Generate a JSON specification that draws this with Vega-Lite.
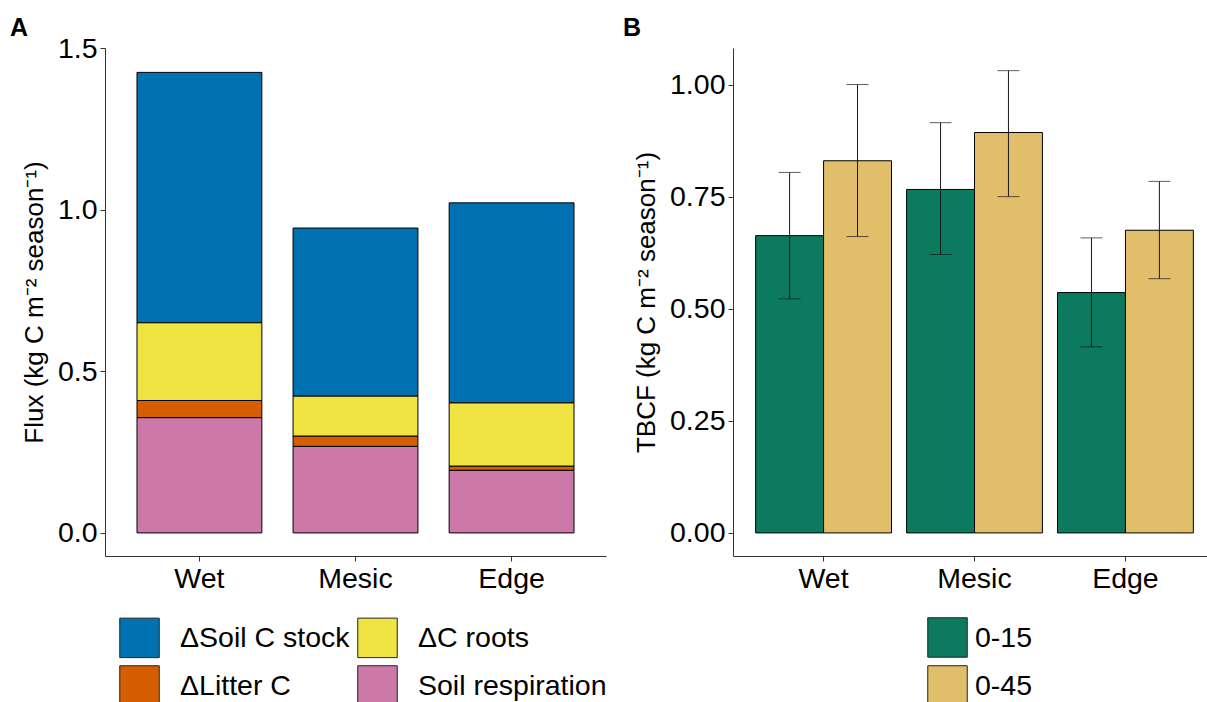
{
  "$schema": "https://vega.github.io/schema/vega-lite/v6.json",
  "autosize": {"type": "pad"},
  "padding": {"left": 10, "top": 16, "right": 0, "bottom": 0},
  "background": "white",
  "config": {
    "font": "Liberation Sans",
    "view": {"stroke": null},
    "axis": {
      "labelFont": "Liberation Sans", "titleFont": "Liberation Sans",
      "labelColor": "black", "titleColor": "black",
      "domainColor": "#333333", "tickColor": "#333333",
      "domainWidth": 1, "tickWidth": 1, "grid": false,
      "labelFontSize": 28.5, "titleFontSize": 26, "titleFontWeight": "normal",
      "tickSize": 5, "labelPadding": 3, "titlePadding": 10
    },
    "legend": {
      "labelFont": "Liberation Sans", "labelFontSize": 28.5, "labelColor": "black", "labelLimit": 0,
      "symbolType": "square", "symbolSize": 1560, "symbolStrokeColor": "#222222",
      "symbolStrokeWidth": 1, "rowPadding": 3, "padding": 0
    },
    "title": {"font": "Liberation Sans", "fontSize": 25, "fontWeight": "bold", "color": "black", "anchor": "start", "frame": "group", "baseline": "alphabetic", "offset": 3}
  },
  "spacing": 127,
  "bounds": "flush",
  "resolve": {"scale": {"color": "independent"}, "legend": {"color": "independent"}},
  "hconcat": [
    {
      "width": 501, "height": 508,
      "title": {"text": "A", "dx": -95, "dy": 10},
      "data": {"values": [
        {"site": "Wet", "component": "Soil respiration", "rank": 1, "flux": 0.357},
        {"site": "Wet", "component": "ΔLitter C", "rank": 2, "flux": 0.053},
        {"site": "Wet", "component": "ΔC roots", "rank": 3, "flux": 0.241},
        {"site": "Wet", "component": "ΔSoil C stock", "rank": 4, "flux": 0.775},
        {"site": "Mesic", "component": "Soil respiration", "rank": 1, "flux": 0.268},
        {"site": "Mesic", "component": "ΔLitter C", "rank": 2, "flux": 0.032},
        {"site": "Mesic", "component": "ΔC roots", "rank": 3, "flux": 0.124},
        {"site": "Mesic", "component": "ΔSoil C stock", "rank": 4, "flux": 0.520},
        {"site": "Edge", "component": "Soil respiration", "rank": 1, "flux": 0.194},
        {"site": "Edge", "component": "ΔLitter C", "rank": 2, "flux": 0.013},
        {"site": "Edge", "component": "ΔC roots", "rank": 3, "flux": 0.196},
        {"site": "Edge", "component": "ΔSoil C stock", "rank": 4, "flux": 0.619}
      ]},
      "mark": {"type": "bar", "stroke": "black", "strokeWidth": 1},
      "encoding": {
        "x": {"field": "site", "type": "nominal", "sort": ["Wet", "Mesic", "Edge"],
              "scale": {"paddingInner": 0.2, "paddingOuter": 0.205},
              "axis": {"title": null, "labelAngle": 0}},
        "y": {"field": "flux", "type": "quantitative", "stack": "zero",
              "scale": {"domain": [-0.0715, 1.5015], "nice": false, "zero": false},
              "axis": {"values": [0, 0.5, 1, 1.5], "format": ".1f", "title": "Flux (kg C m⁻² season⁻¹)"}},
        "color": {"field": "component", "type": "nominal",
                  "scale": {"domain": ["ΔSoil C stock", "ΔC roots", "ΔLitter C", "Soil respiration"],
                            "range": ["#0072B2", "#F0E442", "#D55E00", "#CC79A7"]},
                  "legend": {"title": null, "orient": "none", "legendX": 14, "legendY": 569,
                             "columns": 2, "direction": "horizontal", "labelOffset": 20, "columnPadding": 5}},
        "order": {"field": "rank", "type": "quantitative"}
      }
    },
    {
      "width": 483, "height": 508,
      "title": {"text": "B", "dx": -110, "dy": -4},
      "data": {"values": [
        {"site": "Wet", "depth": "0-15", "tbcf": 0.663, "lo": 0.522, "hi": 0.804},
        {"site": "Wet", "depth": "0-45", "tbcf": 0.830, "lo": 0.661, "hi": 1.000},
        {"site": "Mesic", "depth": "0-15", "tbcf": 0.766, "lo": 0.621, "hi": 0.915},
        {"site": "Mesic", "depth": "0-45", "tbcf": 0.893, "lo": 0.750, "hi": 1.031},
        {"site": "Edge", "depth": "0-15", "tbcf": 0.536, "lo": 0.415, "hi": 0.658},
        {"site": "Edge", "depth": "0-45", "tbcf": 0.675, "lo": 0.567, "hi": 0.784}
      ]},
      "encoding": {
        "x": {"field": "site", "type": "nominal", "sort": ["Wet", "Mesic", "Edge"],
              "scale": {"paddingInner": 0.1, "paddingOuter": 0.15},
              "axis": {"title": null, "labelAngle": 0}},
        "xOffset": {"field": "depth", "type": "nominal", "sort": ["0-15", "0-45"]}
      },
      "layer": [
        {
          "mark": {"type": "bar", "stroke": "black", "strokeWidth": 1},
          "encoding": {
            "y": {"field": "tbcf", "type": "quantitative", "stack": null,
                  "scale": {"domain": [-0.0515, 1.0815], "nice": false, "zero": false},
                  "axis": {"values": [0, 0.25, 0.5, 0.75, 1], "format": ".2f"},
                  "title": "TBCF (kg C m⁻² season⁻¹)"},
            "y2": {"datum": 0},
            "color": {"field": "depth", "type": "nominal",
                      "scale": {"domain": ["0-15", "0-45"], "range": ["#0C7A5F", "#E1BE6A"]},
                      "legend": {"title": null, "orient": "none", "legendX": 194, "legendY": 569,
                                 "direction": "vertical", "labelOffset": 7}}
          }
        },
        {
          "mark": {"type": "rule", "color": "#1a1a1a", "strokeWidth": 1},
          "encoding": {
            "y": {"field": "lo", "type": "quantitative", "title": "TBCF (kg C m⁻² season⁻¹)"},
            "y2": {"field": "hi"}
          }
        },
        {
          "mark": {"type": "tick", "color": "#1a1a1a", "size": 22, "thickness": 1},
          "encoding": {"y": {"field": "lo", "type": "quantitative", "title": "TBCF (kg C m⁻² season⁻¹)"}}
        },
        {
          "mark": {"type": "tick", "color": "#1a1a1a", "size": 22, "thickness": 1},
          "encoding": {"y": {"field": "hi", "type": "quantitative", "title": "TBCF (kg C m⁻² season⁻¹)"}}
        }
      ]
    }
  ]
}
